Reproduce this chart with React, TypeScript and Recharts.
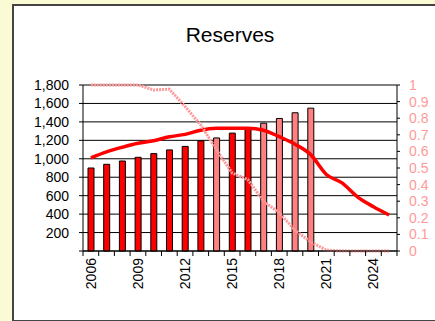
import { ComposedChart, Bar, Line, Cell, XAxis, YAxis, CartesianGrid } from 'recharts'

const years = [
  '2006', '2007', '2008', '2009', '2010', '2011', '2012', '2013', '2014', '2015',
  '2016', '2017', '2018', '2019', '2020', '2021', '2022', '2023', '2024', '2025',
]

// bars (left axis), only up to 2020
const reserves = [900, 940, 976, 1016, 1056, 1096, 1134, 1194, 1226, 1278, 1332, 1386, 1437, 1499, 1549]
// 1 = light bar, 0 = dark bar
const lightBars = [0, 0, 0, 0, 0, 0, 0, 0, 1, 0, 0, 1, 1, 1, 1]

// thick red line (left axis)
const production = [
  1010, 1075, 1125, 1168, 1196, 1238, 1265, 1310, 1330, 1332,
  1332, 1310, 1240, 1158, 1045, 830, 738, 585, 480, 390,
]

// pink dotted line (right axis)
const ratio = [
  1, 1, 1, 1, 0.97, 0.975, 0.87, 0.76, 0.61, 0.47,
  0.43, 0.3, 0.23, 0.125, 0.055, 0.005, 0, 0, 0, 0,
]

const leftTicks = [0, 200, 400, 600, 800, 1000, 1200, 1400, 1600, 1800]
const rightTicks = [0, 0.1, 0.2, 0.3, 0.4, 0.5, 0.6, 0.7, 0.8, 0.9, 1]

const data = years.map((year, i) => ({
  year,
  reserves: i < reserves.length ? reserves[i] : null,
  production: production[i],
  ratio: ratio[i],
}))

const FONT = '"Liberation Sans", Arial, sans-serif'

function YearTick(props: any) {
  const { x, y, payload, index } = props
  const half = payload && payload.offset ? payload.offset : 7.85
  const ty = y + 7
  return (
    <g>
      <line x1={x - half} x2={x - half} y1={y} y2={y + 5} stroke="#000" />
      {index === years.length - 1 && (
        <line x1={x + half} x2={x + half} y1={y} y2={y + 5} stroke="#000" />
      )}
      {index % 3 === 0 && (
        <text
          x={x}
          y={ty}
          dy="0.35em"
          textAnchor="end"
          fontSize={14}
          fill="#000"
          transform={`rotate(-90, ${x}, ${ty})`}
        >
          {payload.value}
        </text>
      )}
    </g>
  )
}

export default function App() {
  return (
    <div
      style={{
        position: 'absolute',
        left: 0,
        top: 0,
        width: 435,
        height: 321,
        background: '#FAFAD5',
        overflow: 'hidden',
        fontFamily: FONT,
      }}
    >
      <div
        style={{
          position: 'absolute',
          left: 12,
          top: 4,
          width: 440,
          height: 314,
          background: '#fff',
          borderLeft: '2px solid #444',
          borderTop: '2px solid #444',
          borderBottom: '2px solid #444',
        }}
      />
      <div
        style={{
          position: 'absolute',
          left: 0,
          top: 23,
          width: 460,
          textAlign: 'center',
          fontSize: 21,
          lineHeight: '24px',
          color: '#000',
        }}
      >
        Reserves
      </div>
      <div style={{ position: 'absolute', left: 0, top: 0 }}>
        <ComposedChart
          width={435}
          height={321}
          data={data}
          margin={{ top: 85, right: 0, bottom: 20, left: 0 }}
        >
          <CartesianGrid vertical={false} stroke="#000" yAxisId="left" />
          <XAxis
            dataKey="year"
            height={50}
            interval={0}
            tickSize={0}
            tickMargin={0}
            tickLine={false}
            axisLine={{ stroke: '#000' }}
            tick={<YearTick />}
          />
          <YAxis
            yAxisId="left"
            width={83}
            domain={[0, 1800]}
            ticks={leftTicks}
            interval={0}
            tickSize={4}
            tickMargin={10}
            axisLine={{ stroke: '#000' }}
            tickLine={{ stroke: '#000' }}
            tick={{ fill: '#000', fontSize: 14 }}
            tickFormatter={(v: number) => (v === 0 ? '' : v.toLocaleString('en-US'))}
          />
          <YAxis
            yAxisId="right"
            orientation="right"
            width={38}
            domain={[0, 1]}
            ticks={rightTicks}
            interval={0}
            tickSize={3}
            tickMargin={9}
            axisLine={{ stroke: '#000' }}
            tickLine={{ stroke: '#000' }}
            tick={{ fill: '#FF9999', fontSize: 14, textAnchor: 'start' }}
            tickFormatter={(v: number) => String(Math.round(v * 10) / 10)}
          />
          <Bar yAxisId="left" dataKey="reserves" barSize={6} stroke="#000" strokeWidth={1} isAnimationActive={false}>
            {data.map((d, i) => (
              <Cell key={d.year} fill={lightBars[i] ? '#FF8080' : '#FF0000'} />
            ))}
          </Bar>
          <Line
            yAxisId="left"
            dataKey="production"
            type="monotone"
            stroke="#FF0000"
            strokeWidth={3.5}
            dot={false}
            isAnimationActive={false}
          />
          <Line
            yAxisId="right"
            dataKey="ratio"
            type="linear"
            stroke="#FF9999"
            strokeWidth={3}
            strokeDasharray="2 1"
            dot={false}
            isAnimationActive={false}
          />
        </ComposedChart>
      </div>
    </div>
  )
}
